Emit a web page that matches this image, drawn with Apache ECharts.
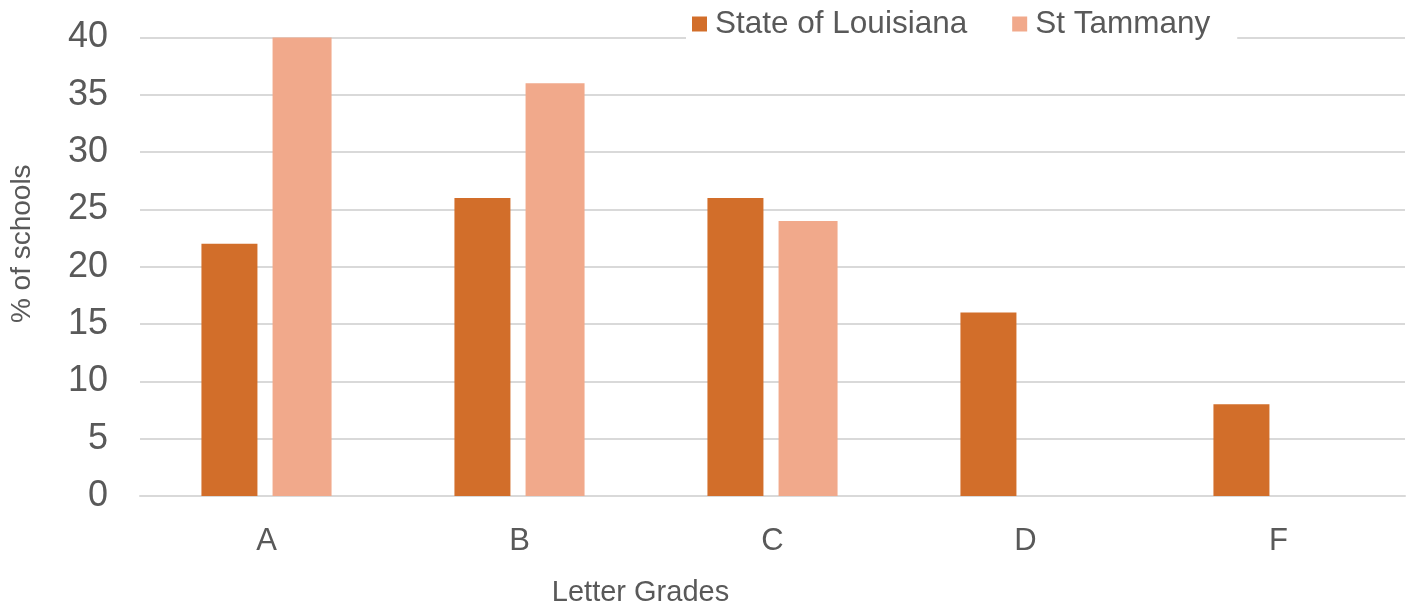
<!DOCTYPE html>
<html>
<head>
<meta charset="utf-8">
<script src="https://cdn.jsdelivr.net/npm/echarts@6/dist/echarts.min.js"></script>
<style>
html,body{margin:0;padding:0;background:#fff;}
#chart{width:1413px;height:612px;}
</style>
</head>
<body>
<div id="chart"></div>
<script>
const categories = ['A', 'B', 'C', 'D', 'F'];
const stateOfLouisiana = [22, 26, 26, 16, 8];
const stTammany = [40, 36, 24, 0, 0];
const yTicks = [0, 5, 10, 15, 20, 25, 30, 35, 40];

const FONT = '"Liberation Sans", Arial, sans-serif';
const chart = echarts.init(document.getElementById('chart'), null, {renderer: 'canvas'});
chart.setOption({
  animation: false,
  backgroundColor: '#ffffff',
  textStyle: {fontFamily: FONT},
  grid: {left: 136, right: 8, top: 37.5, bottom: 113, containLabel: false},
  legend: {
    left: 686, top: 4,
    backgroundColor: '#ffffff',
    padding: [4, 27, 4, 6],
    itemWidth: 15, itemHeight: 15, itemGap: 45,
    icon: 'rect',
    textStyle: {fontFamily: FONT, fontSize: 31.5, color: '#595959', padding: [0, 0, 0, 3]},
    data: ['State of Louisiana', 'St Tammany']
  },
  xAxis: {
    type: 'category',
    data: categories,
    name: 'Letter Grades',
    nameLocation: 'middle',
    nameGap: 82,
    nameTextStyle: {fontFamily: FONT, fontSize: 29, color: '#595959', padding: [0, 264, 0, 0]},
    axisLine: {show: true, lineStyle: {color: '#D9D9D9', width: 2}},
    axisTick: {show: false},
    axisLabel: {fontFamily: FONT, fontSize: 31, color: '#595959', margin: 30},
    splitLine: {show: false}
  },
  yAxis: {
    type: 'value',
    min: yTicks[0], max: yTicks[yTicks.length - 1], interval: 5,
    name: '% of schools',
    nameLocation: 'middle',
    nameRotate: 90,
    nameGap: 104,
    nameTextStyle: {fontFamily: FONT, fontSize: 28, color: '#595959', padding: [0, 0, 0, 46]},
    axisLine: {show: false},
    axisTick: {show: false},
    axisLabel: {fontFamily: FONT, fontSize: 36, color: '#595959', margin: 32},
    splitLine: {show: true, lineStyle: {color: '#D9D9D9', width: 2}}
  },
  series: [
    {
      name: 'State of Louisiana', type: 'bar', data: stateOfLouisiana,
      barWidth: 56, barGap: '27%',
      itemStyle: {color: '#D26E2A'}
    },
    {
      name: 'St Tammany', type: 'bar', data: stTammany,
      barWidth: 59, barGap: '27%',
      itemStyle: {color: '#F1A98B'}
    }
  ]
});
</script>
</body>
</html>
